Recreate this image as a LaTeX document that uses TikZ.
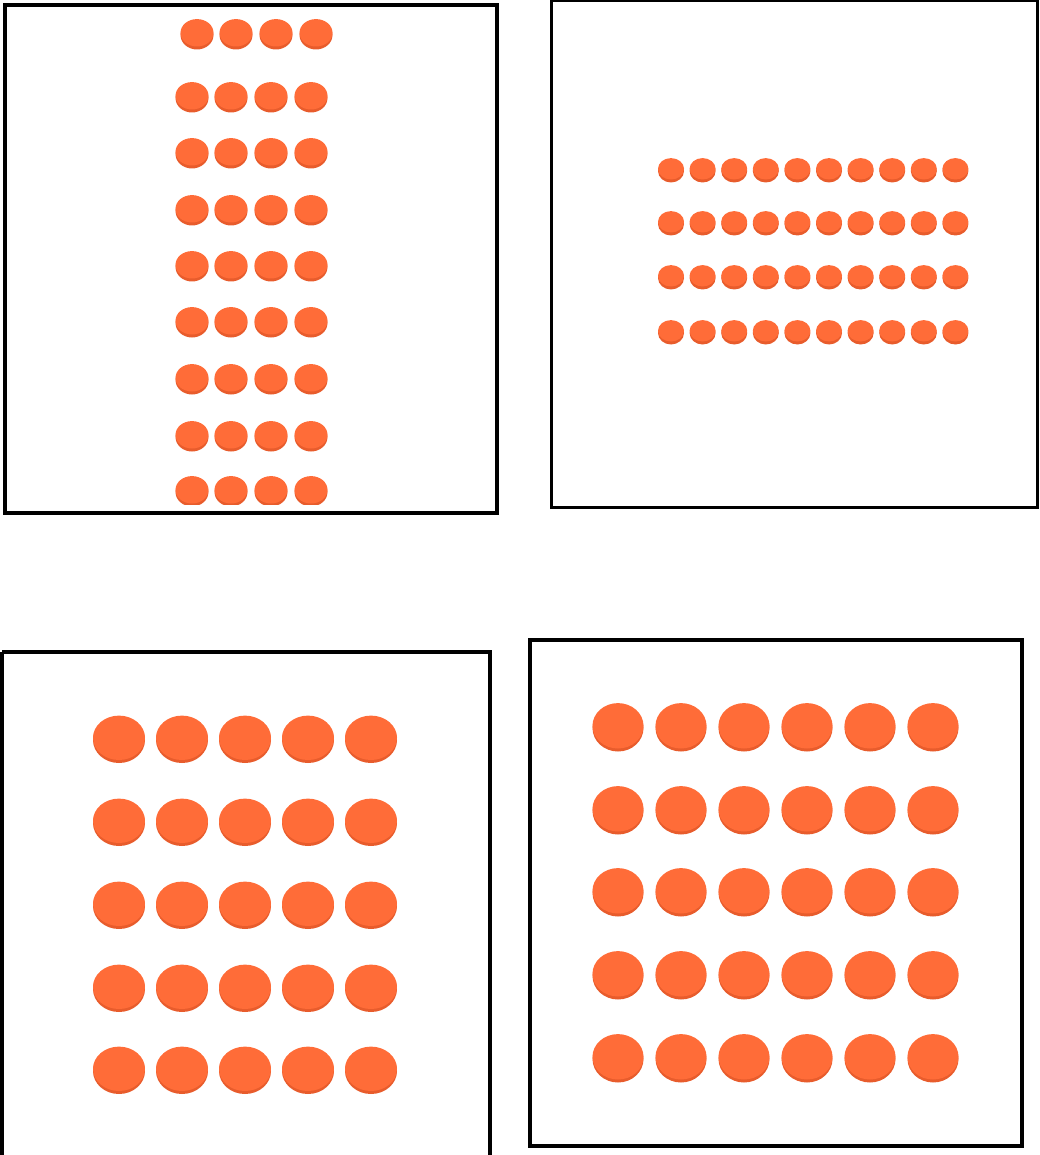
\documentclass[tikz,border=0pt]{standalone}
\definecolor{chip}{RGB}{255,108,56}
\definecolor{chiprim}{RGB}{232,92,44}
% one counter: x, y, width, height
\newcommand{\counterchip}[4]{%
  \fill[chiprim] (#1,#2+1) ellipse ({#3/2} and {#4/2-1});
  \fill[chip] (#1,#2-1.2) ellipse ({#3/2} and {#4/2-1.8});
}
\begin{document}
\begin{tikzpicture}[x=1pt, y=-1pt]
  \useasboundingbox (0,0) rectangle (1039,1155);
  % top left: 4 by 9
  \begin{scope}
    \clip (6,6) rectangle (496,504);
    \foreach \x in {197,236,276,316} \counterchip{\x}{34}{33}{31};
    \foreach \y in {97,153,210,266,322,379,436,491}
      \foreach \x in {192,231,271,311} \counterchip{\x}{\y}{33}{31};
  \end{scope}
  \draw[line width=3.5pt] (5,5) rectangle (497,513);
  % top right: 10 by 4
  \foreach \y in {170,223,277,332}
    \foreach \i in {0,...,9} \counterchip{671+31.6*\i}{\y}{26}{25};
  \draw[line width=3pt] (551,1) rectangle (1037,507);
  % bottom left: 5 by 5
  \foreach \y in {739,822,905,988,1070}
    \foreach \i in {0,...,4} \counterchip{119+63*\i}{\y}{52}{48};
  \draw[line width=3.5pt] (2,652) -- (490,652) -- (490,1160);
  \draw[line width=3.5pt] (2,652) -- (2,1160);
  % bottom right: 6 by 5
  \foreach \y in {727,810,892,975,1058}
    \foreach \i in {0,...,5} \counterchip{618+63*\i}{\y}{51}{49};
  \draw[line width=3.5pt] (530,640) rectangle (1022,1146);
\end{tikzpicture}
\end{document}
